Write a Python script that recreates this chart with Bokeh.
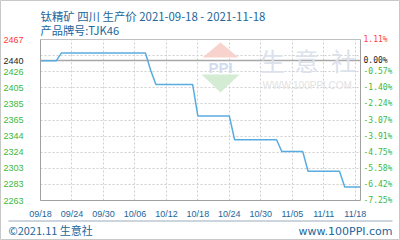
from bokeh.plotting import figure
from bokeh.models import (Range1d, FixedTicker, LinearAxis, Label, BoxAnnotation,
                          PolyAnnotation, ColumnDataSource)
from bokeh.embed import file_html
from bokeh.resources import INLINE

# ---- data ----
x_tick_pos = [0, 6, 12, 18, 24, 30, 36, 42, 48, 54, 60]
x_tick_labels = ["09/18", "09/24", "09/30", "10/06", "10/12", "10/18",
                 "10/24", "10/30", "11/05", "11/11", "11/18"]
days = list(range(62))
prices = [2440, 2440, 2440, 2440, 2450, 2450, 2450, 2450, 2450, 2450,
          2450, 2450, 2450, 2450, 2450, 2450, 2450, 2450, 2450, 2450,
          2450, 2428, 2410, 2410, 2410, 2410, 2410, 2410, 2410, 2410,
          2370, 2370, 2370, 2370, 2370, 2370, 2370, 2340, 2340, 2340,
          2340, 2340, 2340, 2340, 2340, 2340, 2325, 2325, 2325, 2325,
          2325, 2300, 2300, 2300, 2300, 2300, 2300, 2300, 2280, 2280,
          2280, 2280]
base_price = 2440
y_min, y_max = 2263, 2467
y_ticks = [2263, 2283.4, 2303.8, 2324.2, 2344.6, 2365, 2385.4, 2405.8, 2426.2, 2446.6]
y_left_labels = ["2263", "2283", "2303", "2324", "2344", "2365", "2385", "2405", "2426", ""]
y_right_labels = ["-7.25%", "-6.42%", "-5.58%", "-4.75%", "-3.91%", "-3.07%", "-2.24%",
                  "-1.40%", "-0.57%", ""]
top_left_label = "2467"
top_right_label = "1.11%"
base_left_label = "2440"
base_right_label = "0.00%"
title_text = "钛精矿 四川 生产价 2021-09-18 - 2021-11-18"
subtitle_text = "产品牌号:TJK46"
footer_left = "©2021.11 生意社"
footer_right = "www.100PPI.com"
watermark_chars = ["生", "意", "社"]

# ---- layout (pixels) ----
W, H = 400, 240
FL, FR, FT, FB = 40, 360, 39, 200   # chart box inside the canvas
x0, x1 = days[0], days[-1]
ppx = (FR - FL) / (x1 - x0)
ppy = (FB - FT) / (y_max - y_min)

BLUE = "#22669a"
GREEN = "#3cb83c"
RED = "#ff3b3b"
BORDER = "#a0a0a0"
GRIDC = "#cfcfcf"

p = figure(width=W, height=H, output_backend="svg", toolbar_location=None,
           x_axis_location=None, y_axis_location=None,
           x_range=Range1d(x0 - FL / ppx, x1 + (W - FR) / ppx),
           y_range=Range1d(y_min - (H - FB) / ppy, y_max + FT / ppy),
           min_border=0, background_fill_color="white", border_fill_color="white")
p.outline_line_color = "#c8c8c8"
p.outline_line_width = 1
for g in p.grid:
    g.visible = False


def axis(side, fixed, ticks, labels, color, font, size, standoff,
         tick_in=0, tick_color=None, tick_dash="solid", tick_width=1,
         line_color=None, bounds=None, level="underlay"):
    a = LinearAxis(fixed_location=fixed, ticker=FixedTicker(ticks=ticks),
                   major_label_overrides={k: v for k, v in zip(ticks, labels)},
                   level=level)
    a.axis_line_color = line_color
    if bounds is not None:
        a.bounds = bounds
    a.major_tick_in = tick_in
    a.major_tick_out = 0
    a.minor_tick_in = 0
    a.minor_tick_out = 0
    a.minor_tick_line_color = None
    a.major_tick_line_color = tick_color
    a.major_tick_line_dash = tick_dash
    a.major_tick_line_width = tick_width
    a.major_label_text_color = color
    a.major_label_text_font = font
    a.major_label_text_font_size = size
    a.major_label_standoff = standoff
    p.add_layout(a, side)
    return a


# ---- watermark (drawn first, underneath) ----
def poly(xs, ys, color):
    try:
        pa = PolyAnnotation(xs=xs, ys=ys, xs_units="canvas", ys_units="canvas",
                            fill_color=color, fill_alpha=1, line_color=None, level="underlay")
    except Exception:
        pa = PolyAnnotation(xs=xs, ys=[H - v for v in ys], xs_units="screen", ys_units="screen",
                            fill_color=color, fill_alpha=1, line_color=None, level="underlay")
    p.add_layout(pa)


poly([220, 238, 202], [42, 57, 57], "#f8d3cd")
poly([201, 239, 220], [74, 74, 92], "#d3ecd3")
p.add_layout(Label(x=220, y=58, x_units="canvas", y_units="canvas", text="PPI",
                   text_baseline="top", text_align="center", level="underlay",
                   text_font="Liberation Sans", text_font_style="bold",
                   text_font_size="15px", text_color="#d3dced"))
for cx, ch in zip([272, 306, 343], watermark_chars):
    p.add_layout(Label(x=cx, y=41, x_units="canvas", y_units="canvas", text=ch,
                       text_baseline="top", text_align="center", level="underlay",
                       text_font="Noto Sans CJK SC", text_font_size="25px",
                       text_color="#dce2ec"))
p.add_layout(Label(x=262, y=79, x_units="canvas", y_units="canvas", text="WWW.100PPI.COM",
                   text_baseline="top", level="underlay",
                   text_font="Liberation Sans", text_font_size="10px", text_color="#e2e2e2"))

# ---- axes, gridlines, borders ----
axis("left", x0, y_ticks, y_left_labels, GREEN, "Liberation Sans", "9px", 17,
     tick_in=FR - FL, tick_color=GRIDC, tick_dash="2 2")
axis("left", x0, [base_price], [base_left_label], "#222222", "Liberation Sans", "9px", 17,
     tick_in=FR - FL, tick_color="#a8a8a8", tick_width=1.6)
axis("left", x0, [y_max], [top_left_label], RED, "Liberation Sans", "9px", 17)
axis("left", x0, [], [], GREEN, "Liberation Sans", "9px", 17,
     line_color=BORDER, bounds=(y_min, y_max), level="overlay")

axis("right", x1, y_ticks, y_right_labels, GREEN, "DejaVu Sans Mono", "8px", 3,
     line_color=BORDER, bounds=(y_min, y_max), level="overlay")
axis("right", x1, [base_price], [base_right_label], "#222222", "DejaVu Sans Mono", "8px", 3)
axis("right", x1, [y_max], [top_right_label], RED, "DejaVu Sans Mono", "8px", 3)

axis("below", y_min, x_tick_pos, x_tick_labels, BLUE, "Liberation Sans", "9px", 8,
     tick_in=FB - FT, tick_color=GRIDC, tick_dash="2 2")
axis("below", y_min, [], [], BLUE, "Liberation Sans", "9px", 8,
     line_color=BORDER, bounds=(x0, x1), level="overlay")
axis("above", y_max, [], [], BLUE, "Liberation Sans", "9px", 8,
     line_color="#c0c0c0", bounds=(x0, x1), level="overlay")

# ---- data line ----
src = ColumnDataSource(dict(x=days, y=prices))
p.line("x", "y", source=src, line_color="#59acdf", line_width=1.5)

# ---- titles and footer ----
p.add_layout(Label(x=FL, y=7, x_units="canvas", y_units="canvas", text=title_text,
                   text_baseline="top", text_color=BLUE,
                   text_font="Noto Sans CJK SC", text_font_size="11.4px"))
p.add_layout(Label(x=FL, y=21, x_units="canvas", y_units="canvas", text=subtitle_text,
                   text_baseline="top", text_color=BLUE,
                   text_font="Noto Sans CJK SC", text_font_size="11.2px"))
p.add_layout(Label(x=8, y=237, x_units="canvas", y_units="canvas", text=footer_left,
                   text_baseline="bottom", text_color=BLUE,
                   text_font="Noto Sans CJK SC", text_font_size="11px"))
p.add_layout(Label(x=392, y=237, x_units="canvas", y_units="canvas", text=footer_right,
                   text_align="right", text_baseline="bottom", text_color=BLUE,
                   text_font="DejaVu Sans", text_font_size="11px"))
p.add_layout(BoxAnnotation(left=8, right=392, top=220, bottom=221, left_units="canvas",
                           right_units="canvas", top_units="canvas", bottom_units="canvas",
                           fill_color="#9aabbd", fill_alpha=1, line_color=None))

open("out.html", "w").write(file_html(p, INLINE))
